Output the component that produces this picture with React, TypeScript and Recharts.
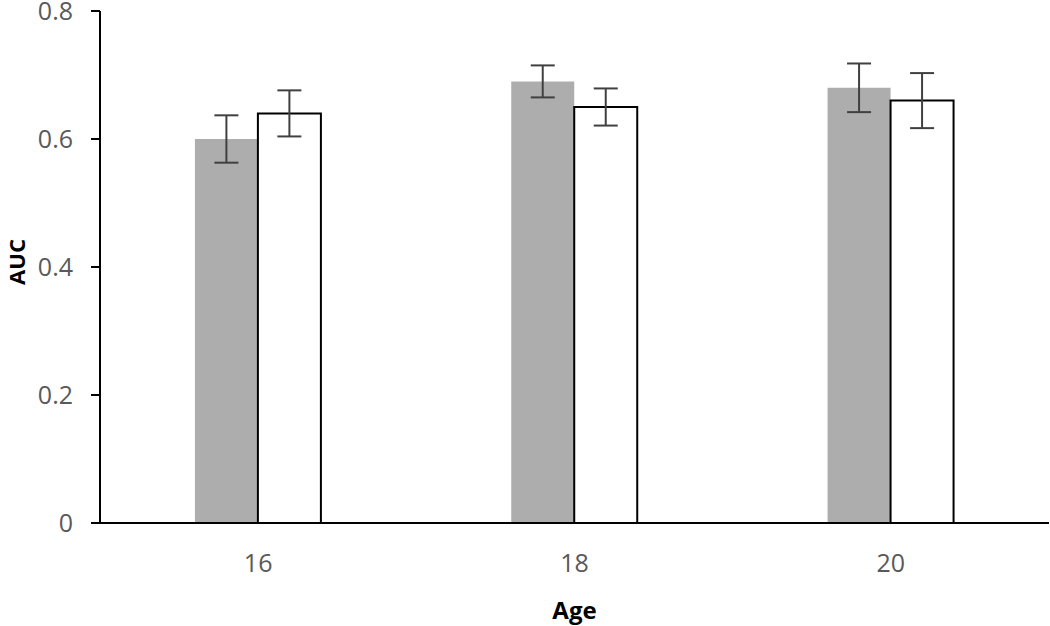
import { BarChart, Bar, XAxis, YAxis, ErrorBar } from 'recharts'

const ages = ['16', '18', '20']
const grayValues = [0.6, 0.69, 0.68]
const grayErrors = [0.037, 0.025, 0.038]
const whiteValues = [0.64, 0.65, 0.66]
const whiteErrors = [0.036, 0.029, 0.043]
const yTicks = [0, 0.2, 0.4, 0.6, 0.8]

const chartData = ages.map((age, i) => ({
  age,
  gray: grayValues[i],
  grayErr: grayErrors[i],
  white: whiteValues[i],
  whiteErr: whiteErrors[i],
}))

const fontFamily = '"Open Sans", sans-serif'
const tickStyle = { fill: '#595959', fontSize: 25, fontFamily }
const axisStroke = { stroke: '#000', strokeWidth: 2 }

const YLabel = () => (
  <text
    x={16}
    y={262}
    transform="rotate(-90 16 262)"
    textAnchor="middle"
    dominantBaseline="central"
    fontFamily={fontFamily}
    fontSize={22}
    fontWeight="bold"
    fill="#000"
  >
    AUC
  </text>
)

export default function App() {
  return (
    <div style={{ position: 'absolute', left: 0, top: 0, background: '#fff' }}>
      <BarChart
        width={1050}
        height={626}
        data={chartData}
        margin={{ top: 11, right: 1, bottom: 0, left: 0 }}
        barCategoryGap="30%"
        barGap={0}
      >
        <XAxis
          dataKey="age"
          height={103}
          tickLine={false}
          tickSize={0}
          tickMargin={31}
          tick={tickStyle}
          axisLine={axisStroke}
          label={{
            value: 'Age',
            position: 'insideBottom',
            offset: 7,
            style: { fontFamily, fontSize: 24, fontWeight: 'bold', fill: '#000' },
          }}
        />
        <YAxis
          width={100}
          domain={[0, 0.8]}
          ticks={yTicks}
          interval={0}
          tickSize={9}
          tickMargin={18}
          tick={tickStyle}
          tickLine={axisStroke}
          axisLine={axisStroke}
          tickFormatter={(v: number) => (v === 0 ? '0' : v.toFixed(1))}
          label={<YLabel />}
        />
        <Bar dataKey="gray" fill="#adadad" isAnimationActive={false}>
          <ErrorBar dataKey="grayErr" width={12} stroke="#404040" strokeWidth={2} direction="y" />
        </Bar>
        <Bar dataKey="white" fill="#fff" stroke="#000" strokeWidth={2} isAnimationActive={false}>
          <ErrorBar dataKey="whiteErr" width={12} stroke="#404040" strokeWidth={2} direction="y" />
        </Bar>
      </BarChart>
    </div>
  )
}
